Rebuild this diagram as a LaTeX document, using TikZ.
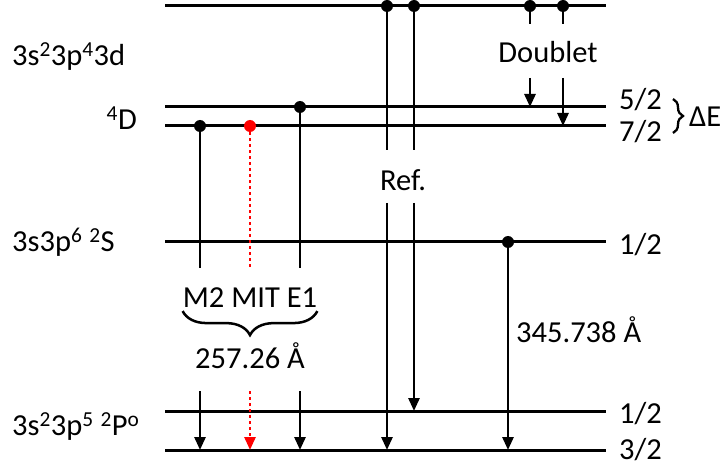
\documentclass[tikz,border=0pt]{standalone}
\usepackage{fontspec}
\setmainfont{Carlito}
\usepackage{tikz}
\usetikzlibrary{arrows.meta, positioning, calc, decorations.pathreplacing}
\definecolor{cRed}{RGB}{255,0,0}
\tikzset{
	level/.style     ={line width=3pt},
	trans/.style     ={line width=2.7pt},
	transarrow/.style={trans, -{Triangle[length=13pt, width=11pt]}},
	mitline/.style   ={line width=2.7pt, cRed, dash pattern=on 3pt off 3pt},
	mitarrow/.style  ={mitline, -{Triangle[length=13pt, width=11pt]}},
	updot/.style     ={circle, fill=black, inner sep=0pt, minimum size=12pt},
	lbl/.style       ={inner sep=0pt, font=\fontsize{30.5}{36}\selectfont},
	bracedown/.style ={decorate, decoration={brace, mirror, amplitude=24pt}, line width=2.5pt},
	braceright/.style={decorate, decoration={brace, amplitude=10pt}, line width=2.3pt},
}

\begin{document}
\begin{tikzpicture}[x=1pt, y=-1pt, every node/.style={lbl}]
	\fill[white] (0,0) rectangle (724,468);
	\useasboundingbox (0,0) rectangle (724,468);
	\coordinate (aT) at (165,6);    \coordinate (bT) at (606,6);
	\coordinate (a52) at (165,107); \coordinate (b52) at (606,107);
	\coordinate (a72) at (165,126); \coordinate (b72) at (606,126);
	\coordinate (aS) at (165,242);  \coordinate (bS) at (606,242);
	\coordinate (a12) at (165,411); \coordinate (b12) at (606,411);
	\coordinate (a32) at (165,450); \coordinate (b32) at (606,450);
	\foreach \l in {T,52,72,S,12,32} \draw[level] (a\l) -- (b\l);
	\coordinate (xM2) at (200,0);  \coordinate (xMIT) at (250,0); \coordinate (xE1) at (300,0);
	\coordinate (xRa) at (387,0);  \coordinate (xRb) at (414,0);
	\coordinate (xDa) at (530,0);  \coordinate (xDb) at (563,0);  \coordinate (xS) at (508,0);
	\coordinate (gA) at (0,268); \coordinate (gB) at (0,391);
	\coordinate (gC) at (0,150); \coordinate (gD) at (0,203);
	\coordinate (gE) at (0,24);  \coordinate (gF) at (0,78);
	\node[updot] (dM2) at (xM2 |- a72) {};
	\node[updot, fill=cRed] (dMIT) at (xMIT |- a72) {};
	\node[updot] (dE1) at (xE1 |- a52) {};
	\node[updot] (dRa) at (xRa |- aT) {};
	\node[updot] (dRb) at (xRb |- aT) {};
	\node[updot] (dDa) at (xDa |- aT) {};
	\node[updot] (dDb) at (xDb |- aT) {};
	\node[updot] (dS) at (xS |- aS) {};
	\draw[trans] (dM2) -- (xM2 |- gA);   \draw[transarrow] (xM2 |- gB) -- (xM2 |- a32);
	\draw[mitline] (dMIT) -- (xMIT |- gA); \draw[mitarrow] (xMIT |- gB) -- (xMIT |- a32);
	\draw[trans] (dE1) -- (xE1 |- gA);   \draw[transarrow] (xE1 |- gB) -- (xE1 |- a32);
	\draw[trans] (dRa) -- (xRa |- gC);   \draw[transarrow] (xRa |- gD) -- (xRa |- a32);
	\draw[trans] (dRb) -- (xRb |- gC);   \draw[transarrow] (xRb |- gD) -- (xRb |- a12);
	\draw[trans] (dDa) -- (xDa |- gE);   \draw[transarrow] (xDa |- gF) -- (xDa |- a52);
	\draw[trans] (dDb) -- (xDb |- gE);   \draw[transarrow] (xDb |- gF) -- (xDb |- a72);
	\draw[transarrow] (dS) -- (xS |- a32);
	\node[anchor=west] (t3d) at (12,57) {3s\textsuperscript{2}3p\textsuperscript{4}3d};
	\node[anchor=east] (tD) at (137,118) {\textsuperscript{4}D};
	\node[anchor=west] (tS) at (12,242) {3s3p\textsuperscript{6} \textsuperscript{2}S};
	\node[anchor=west] (tP) at (12,427) {3s\textsuperscript{2}3p\textsuperscript{5} \textsuperscript{2}P\textsuperscript{o}};
	\node[right=13pt of b52, yshift=7pt] (j52) {5/2};
	\node[right=13pt of b72, yshift=-6pt] (j72) {7/2};
	\node[right=13pt of bS, yshift=-3pt] (jS) {1/2};
	\node[right=13pt of b12, yshift=-3pt] (j12) {1/2};
	\node[right=13pt of b32] (j32) {3/2};
	\coordinate (eT) at (673,99); \coordinate (eB) at (673,133);
	\draw[braceright] (eT) -- (eB);
	\node[anchor=west] (tE) at (689,117) {ΔE};
	\node (tM) at (250,298) {M2 MIT E1};
	\draw[bracedown] ([yshift=-3pt]tM.south west) -- ([yshift=-3pt]tM.south east);
	\node (tW1) at (250,356) {257.26 Å};
	\node (tRef) at (403,180) {Ref.};
	\node (tDoub) at (548,52) {Doublet};
	\node[anchor=west] (tW2) at (516,330) {345.738 Å};
\end{tikzpicture}
\end{document}
